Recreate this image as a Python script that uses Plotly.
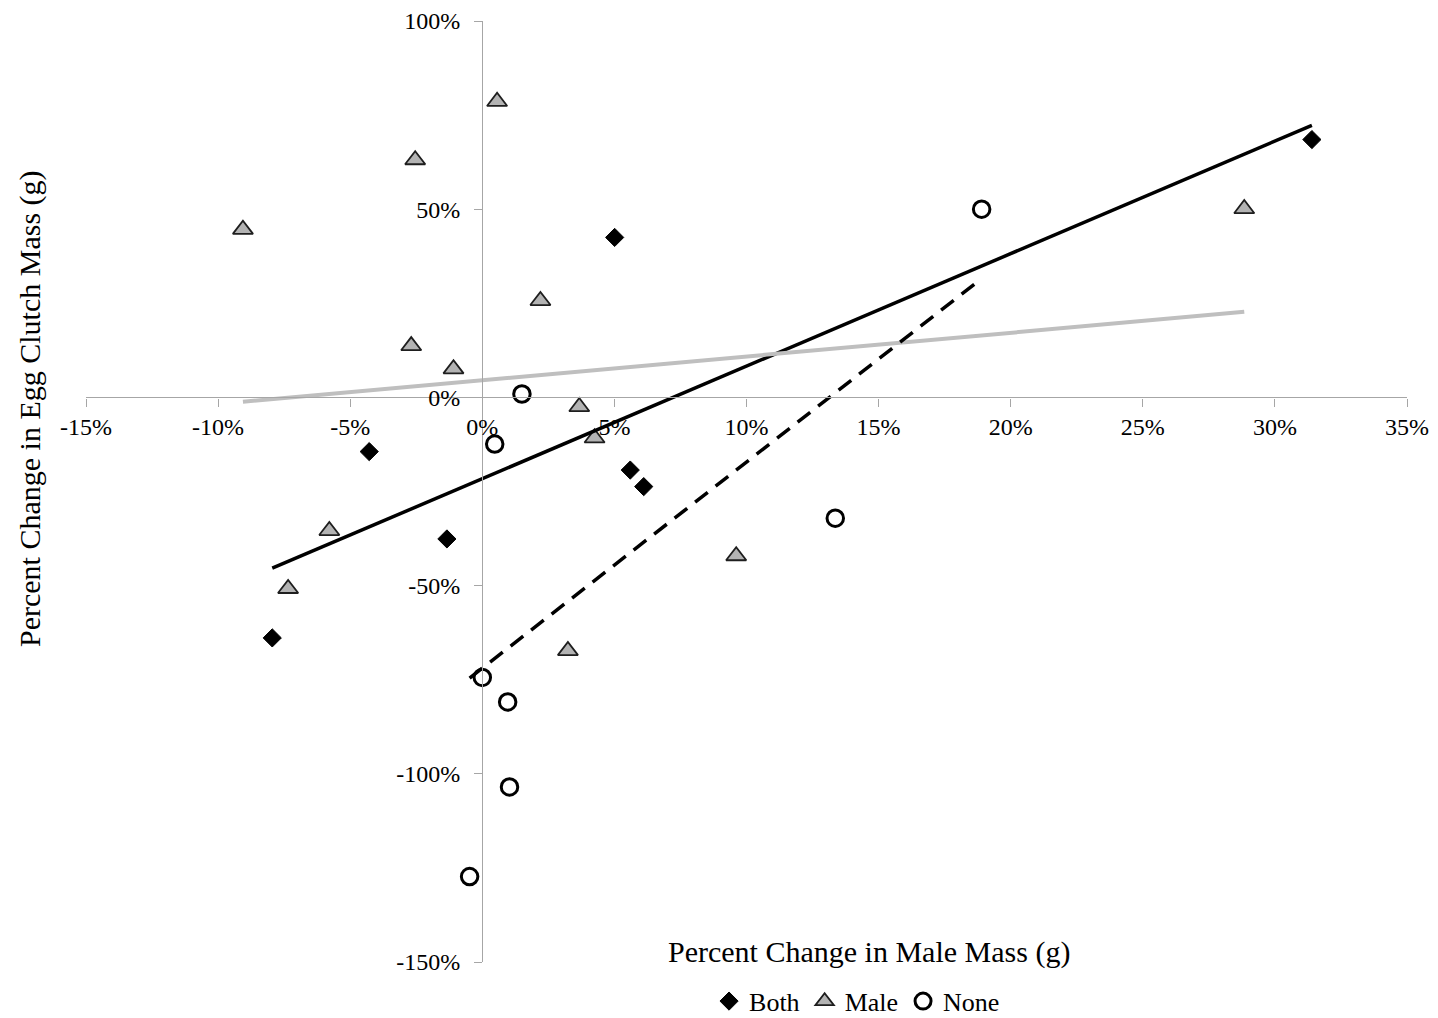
import numpy as np
import plotly.graph_objects as go

# Percent change in male mass (x) vs percent change in egg clutch mass (y), by group
both_x = [-7.95, -4.28, -1.34, 5.01, 5.60, 6.11, 31.4]
both_y = [-63.9, -14.4, -37.6, 42.5, -19.3, -23.7, 68.5]

male_x = [-9.06, -2.54, 0.56, -2.69, -1.09, 2.20, 3.67, 4.25, -5.79, -7.35, 3.24, 9.61, 28.84]
male_y = [44.6, 63.1, 78.6, 13.7, 7.55, 25.7, -2.5, -10.8, -35.4, -50.8, -67.3, -42.1, 50.1]

none_x = [18.9, 1.50, 0.47, 13.36, 0.0, 0.96, 1.03, -0.48]
none_y = [50.0, 0.9, -12.4, -32.1, -74.4, -80.9, -103.5, -127.3]

x_ticks = [-15, -10, -5, 0, 5, 10, 15, 20, 25, 30, 35]
x_tick_text = ["-15%", "-10%", "-5%", "0%", "5%", "10%", "15%", "20%", "25%", "30%", "35%"]
y_ticks = [-150, -100, -50, 0, 50, 100]
y_tick_text = ["-150%", "-100%", "-50%", "0%", "50%", "100%"]

SERIF = "Liberation Serif, Times New Roman, serif"
AXIS_GREY = "#a6a6a6"


def trend(xs, ys):
    """Least-squares linear trendline spanning the group's x range."""
    slope, intercept = np.polyfit(xs, ys, 1)
    xr = np.array([min(xs), max(xs)])
    return xr, slope * xr + intercept


fig = go.Figure()

fig.add_trace(go.Scatter(
    x=both_x, y=both_y, mode="markers", name="Both",
    marker=dict(symbol="diamond", size=14, color="#000000",
                line=dict(color="#000000", width=1)),
))
fig.add_trace(go.Scatter(
    x=male_x, y=male_y, mode="markers", name="Male",
    marker=dict(symbol="triangle-up", size=17.5, color="#b3b3b3",
                line=dict(color="#1e1e1e", width=1.8)),
))
fig.add_trace(go.Scatter(
    x=none_x, y=none_y, mode="markers", name="None",
    marker=dict(symbol="circle", size=16.5, color="rgba(255,255,255,0)",
                line=dict(color="#000000", width=3)),
))

# Linear trendlines for each group
tx, ty = trend(both_x, both_y)
fig.add_trace(go.Scatter(x=tx, y=ty, mode="lines", showlegend=False,
                         line=dict(color="#000000", width=3.5)))
tx, ty = trend(male_x, male_y)
fig.add_trace(go.Scatter(x=tx, y=ty, mode="lines", showlegend=False,
                         line=dict(color="#bfbfbf", width=4)))
tx, ty = trend(none_x, none_y)
fig.add_trace(go.Scatter(x=tx, y=ty, mode="lines", showlegend=False,
                         line=dict(color="#000000", width=3.5, dash="16px,10px")))

fig.update_layout(
    width=1438, height=1018,
    margin=dict(l=86, r=31, t=21, b=56, autoexpand=False),
    paper_bgcolor="white", plot_bgcolor="white",
    font=dict(family=SERIF, size=24, color="#000000"),
    xaxis=dict(
        range=[-15, 35], tickvals=x_ticks, ticktext=x_tick_text,
        anchor="free", position=0.6,
        showline=True, linecolor=AXIS_GREY, linewidth=1.3,
        ticks="outside", ticklen=8, tickcolor=AXIS_GREY, tickwidth=1.3,
        ticklabelstandoff=0,
        showgrid=False, zeroline=False, automargin=False,
        tickfont=dict(family=SERIF, size=24, color="#000000"),
    ),
    yaxis=dict(
        range=[-150, 100], tickvals=y_ticks, ticktext=y_tick_text,
        anchor="free", position=0.3,
        showline=True, linecolor=AXIS_GREY, linewidth=1.3,
        ticks="outside", ticklen=8, tickcolor=AXIS_GREY, tickwidth=1.3,
        ticklabelstandoff=9,
        showgrid=False, zeroline=False, automargin=False,
        tickfont=dict(family=SERIF, size=24, color="#000000"),
    ),
    legend=dict(
        orientation="h", xref="container", yref="container",
        x=0.596, y=0.0165, xanchor="center", yanchor="middle",
        font=dict(family=SERIF, size=26, color="#000000"),
        itemwidth=30, bgcolor="rgba(0,0,0,0)",
    ),
    annotations=[
        dict(text="Percent Change in Male Mass (g)", xref="paper", yref="paper",
             x=0.593, y=0.0106, xanchor="center", yanchor="middle",
             showarrow=False, font=dict(family=SERIF, size=30, color="#000000")),
        dict(text="Percent Change in Egg Clutch Mass (g)", xref="paper", yref="paper",
             x=-0.0424, y=0.5887, xanchor="center", yanchor="middle", textangle=-90,
             showarrow=False, font=dict(family=SERIF, size=30, color="#000000")),
    ],
)

fig.write_html("out.html")
